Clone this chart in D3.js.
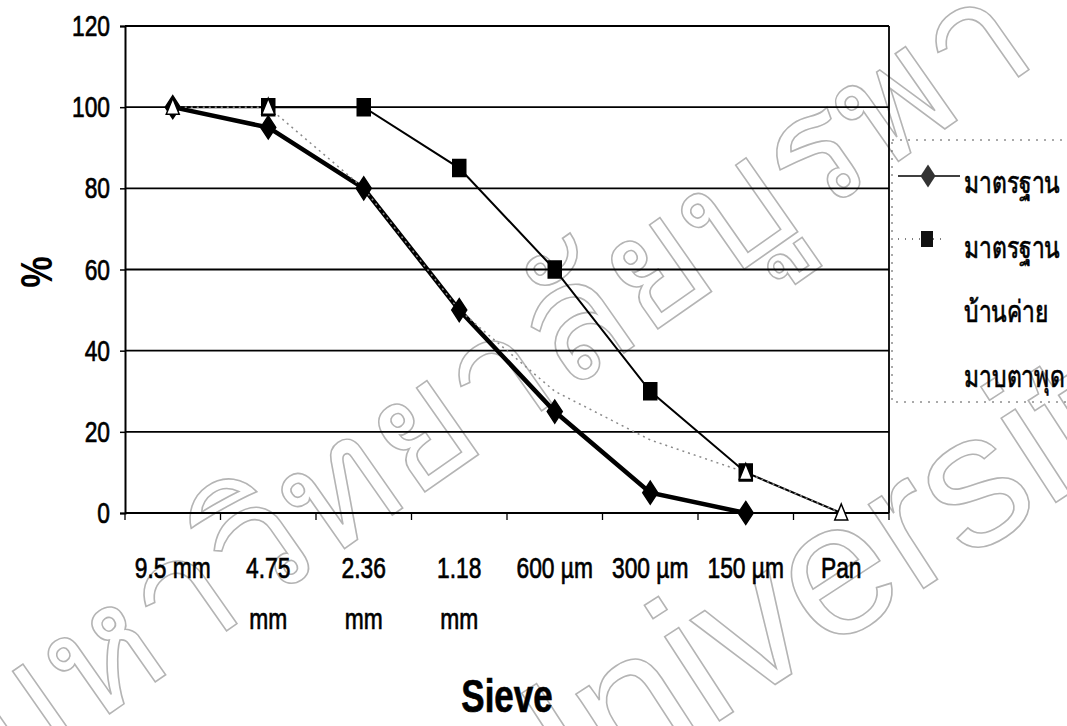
<!DOCTYPE html>
<html>
<head>
<meta charset="utf-8">
<script src="https://cdn.jsdelivr.net/npm/d3@7"></script>
<style>
  body { margin: 0; background: #fff; }
  text { font-family: "Liberation Sans", Arial, sans-serif; }
  .ink { stroke: #000; stroke-width: 0.7px; }
</style>
</head>
<body>
<svg id="chart" width="1067" height="726"></svg>
<script>
// sieve sizes on the x axis (first line / second line of each label)
var sieves = ["9.5 mm", "4.75 mm", "2.36 mm", "1.18 mm", "600 µm", "300 µm", "150 µm", "Pan"];
var sieveLine1 = ["9.5 mm", "4.75", "2.36", "1.18", "600 µm", "300 µm", "150 µm", "Pan"];
var sieveLine2 = ["", "mm", "mm", "mm", "", "", "", ""];

// % passing
var lowerLimit = [100, 95, 80, 50, 25, 5, 0, null];      // มาตรฐาน (lower)
var upperLimit = [100, 100, 100, 85, 60, 30, 10, 0];     // มาตรฐาน (upper)
var sample = [100, 100, 80, 50, 30, 18, 10, 0];          // บ้านค่าย มาบตาพุด

var yTicks = [0, 20, 40, 60, 80, 100, 120];
var legendText = ["มาตรฐาน", "มาตรฐาน", "บ้านค่าย", "มาบตาพุด"];

var svg = d3.select("#chart");
var SQ = 0.76;   // the original font is a narrow one, squeeze text horizontally

// text helper: squeezed text at (px, py)
function ntext(g, px, py, str, size, anchor, weight) {
  return g.append("text")
    .attr("class", "ink")
    .attr("transform", "translate(" + px + "," + py + ") scale(" + SQ + ",1)")
    .attr("text-anchor", anchor || "start")
    .style("font-size", size + "px")
    .style("font-weight", weight || "normal")
    .text(str);
}

/**
 * watermark, drawn first so that everything sits on top of it
 */
var wm = svg.append("g").attr("fill", "none").attr("stroke", "#b4b4b4").attr("stroke-width", 1.6);
wm.append("text")
  .attr("transform", "translate(0,790) rotate(-35)")
  .style("font-family", "'Noto Sans', sans-serif")
  .style("font-size", "162px")
  .text("มหาวิทยาลัยบูรพา");
wm.append("text")
  .attr("transform", "translate(505,860) rotate(-33)")
  .style("font-size", "190px")
  .text("University");

var pl = 125, pr = 889, pt = 26, pb = 513;

var x = d3.scaleBand().domain(sieves).range([pl, pr]).padding(0);
var y = d3.scaleLinear().domain([0, 120]).range([pb, pt]);
function cx(i) { return x(sieves[i]) + x.bandwidth() / 2; }

// gridlines
svg.append("g").selectAll("line")
  .data(yTicks.slice(1))
  .enter().append("line")
  .attr("x1", pl).attr("x2", pr)
  .attr("y1", function(d) { return y(d); })
  .attr("y2", function(d) { return y(d); })
  .attr("stroke", "#000").attr("stroke-width", 1.8);

// right border of plot area
svg.append("line").attr("x1", pr).attr("x2", pr).attr("y1", pt).attr("y2", pb)
  .attr("stroke", "#000").attr("stroke-width", 1.8);

// y axis
var yAxis = svg.append("g")
  .attr("transform", "translate(" + pl + ",0)")
  .call(d3.axisLeft(y).tickValues(yTicks).tickSize(5));
yAxis.select(".domain").attr("stroke-width", 2);
yAxis.selectAll("line").attr("stroke-width", 1.5);
yAxis.selectAll("text")
  .attr("class", "ink")
  .attr("x", -15 / SQ)
  .attr("transform", "scale(" + SQ + ",1)")
  .attr("fill", "#000")
  .attr("font-family", null).attr("font-size", null)
  .style("font-size", "30px");

// x axis: ticks sit between the categories
var xAxis = svg.append("g").attr("transform", "translate(0," + pb + ")");
xAxis.append("line").attr("x1", pl).attr("x2", pr).attr("stroke", "#000").attr("stroke-width", 2);
xAxis.selectAll(".tk")
  .data(sieves.concat(["end"]))
  .enter().append("line")
  .attr("class", "tk")
  .attr("x1", function(d, i) { return pl + i * x.bandwidth(); })
  .attr("x2", function(d, i) { return pl + i * x.bandwidth(); })
  .attr("y1", 0).attr("y2", 7)
  .attr("stroke", "#000").attr("stroke-width", 1.3);

var xl = svg.append("g");
sieves.forEach(function(s, i) {
  ntext(xl, cx(i), 578, sieveLine1[i], 30, "middle");
  if (sieveLine2[i]) ntext(xl, cx(i), 629, sieveLine2[i], 30, "middle");
});

// axis titles
svg.append("text")
  .attr("transform", "translate(52,272) rotate(-90) scale(0.8,1)")
  .attr("text-anchor", "middle")
  .style("font-size", "44px").style("font-weight", "bold")
  .text("%");
ntext(svg, 507, 712, "Sieve", 46, "middle", "bold");

// lines
function lineFor(data) {
  return d3.line()
    .defined(function(d) { return d !== null; })
    .x(function(d, i) { return cx(i); })
    .y(function(d) { return y(d); })(data);
}

svg.append("path").attr("d", lineFor(upperLimit))
  .attr("fill", "none").attr("stroke", "#000").attr("stroke-width", 2);
svg.append("path").attr("d", lineFor(lowerLimit))
  .attr("fill", "none").attr("stroke", "#000").attr("stroke-width", 4.5);
svg.append("path").attr("d", lineFor(sample))
  .attr("fill", "none").attr("stroke", "#8a8a8a").attr("stroke-width", 1.5)
  .attr("stroke-dasharray", "2,4");

// markers
var diamond = "M0,-11.5L7.5,0L0,11.5L-7.5,0Z";
var square = "M-6.5,-8.5H6.5V8.5H-6.5Z";
var tri = "M0,-9L6.5,7H-6.5Z";

// keep: which points of the series get a marker
function markers(data, keep, path, fill, stroke) {
  var pts = data.map(function(d, i) { return { v: d, i: i }; })
    .filter(function(p) { return p.v !== null && keep(p.i); });
  svg.append("g").selectAll("path")
    .data(pts)
    .enter().append("path")
    .attr("d", path)
    .attr("transform", function(p) { return "translate(" + cx(p.i) + "," + y(p.v) + ")"; })
    .attr("fill", fill).attr("stroke", stroke).attr("stroke-width", 1.5);
}
markers(upperLimit, function(i) { return i > 0 && i < 7; }, square, "#000", "#000");
markers(lowerLimit, function() { return true; }, diamond, "#000", "#000");
markers(sample, function(i) { return i < 2 || i > 5; }, tri, "#fff", "#000");

// legend
var lg = svg.append("g");
lg.append("rect").attr("x", 892).attr("y", 140).attr("width", 200).attr("height", 262)
  .attr("fill", "none").attr("stroke", "#555").attr("stroke-width", 1).attr("stroke-dasharray", "2,6");
lg.append("line").attr("x1", 898).attr("x2", 960).attr("y1", 176).attr("y2", 176)
  .attr("stroke", "#000").attr("stroke-width", 1.5);
lg.append("path").attr("d", diamond).attr("transform", "translate(928,176)").attr("fill", "#333");
lg.append("line").attr("x1", 898).attr("x2", 942).attr("y1", 239).attr("y2", 239)
  .attr("stroke", "#000").attr("stroke-width", 1.2).attr("stroke-dasharray", "1,6");
lg.append("path").attr("d", "M-6,-8H6V8H-6Z").attr("transform", "translate(927,239)").attr("fill", "#111");

legendText.forEach(function(t, i) {
  ntext(lg, 964, 193 + i * 64.5, t, 30, "start");
});
</script>
</body>
</html>
